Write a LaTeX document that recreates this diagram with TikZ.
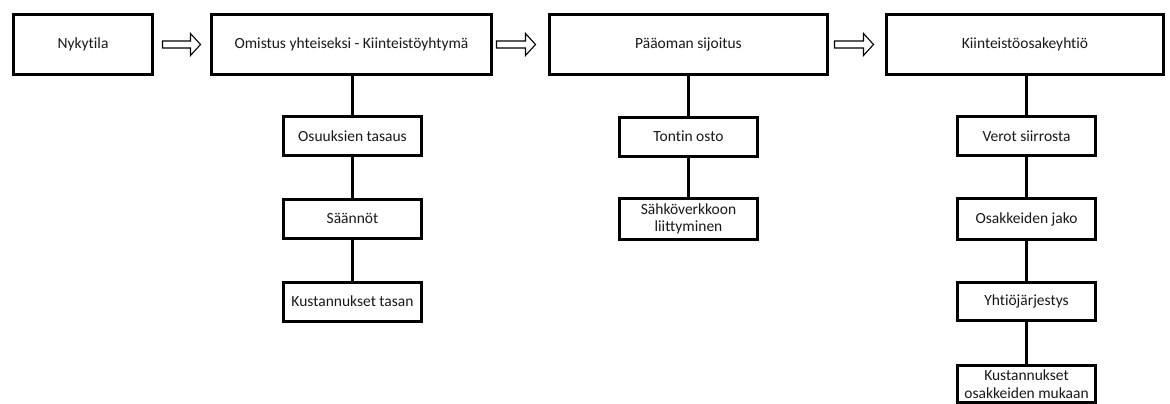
\documentclass[tikz,border=0pt]{standalone}
\usepackage{fontspec}
\setmainfont{Carlito}[Ligatures={NoCommon}]
\usetikzlibrary{calc}
\tikzset{
  box/.style={draw=black, line width=3pt, fill=white, align=center, inner sep=0pt,
    font=\fontsize{15.5}{17.5}\selectfont, text=black!90},
  topbox/.style={box, minimum height=60pt},
  subbox/.style={box, minimum width=138pt, minimum height=39pt},
  link/.style={line width=3pt},
  blockarrow/.style={draw=black, line width=1.1pt, fill=white, line join=miter},
}
\newcommand{\blockarr}[2]{%
  \draw[blockarrow] let \p1=(#1), \p2=(#2) in
    (\x1,\y1+3.5pt) -- (\x2-10pt,\y1+3.5pt) -- (\x2-10pt,\y1+11pt) -- (\x2,\y1)
    -- (\x2-10pt,\y1-11pt) -- (\x2-10pt,\y1-3.5pt) -- (\x1,\y1-3.5pt) -- cycle;}
\begin{document}
\begin{tikzpicture}[x=1pt,y=1pt]
\useasboundingbox[fill=white] (0,0) rectangle (1170,-404);
% top row
\node[topbox, minimum width=139pt] (a) at (83,-44.5) {Nykytila};
\node[topbox, minimum width=280pt] (b) at (351.5,-44.5) {Omistus yhteiseksi - Kiinteistöyhtymä};
\node[topbox, minimum width=278pt] (c) at (688.5,-44.5) {Pääoman sijoitus};
\node[topbox, minimum width=277pt] (d) at (1025,-44.5) {Kiinteistöosakeyhtiö};
% column b
\node[subbox] (b1) at (352.5,-136) {Osuuksien tasaus};
\node[subbox] (b2) at (352.5,-218.5) {Säännöt};
\node[subbox] (b3) at (352.5,-301.5) {Kustannukset tasan};
% column c
\node[subbox] (c1) at (688.5,-136.5) {Tontin osto};
\node[subbox, minimum height=41pt] (c2) at (688.5,-219) {Sähköverkkoon\\liittyminen};
% column d
\node[subbox] (d1) at (1026.5,-136) {Verot siirrosta};
\node[subbox, minimum height=41pt] (d2) at (1026.5,-219) {Osakkeiden jako};
\node[subbox, minimum height=38pt] (d3) at (1026.5,-301.5) {Yhtiöjärjestys};
\node[subbox, minimum height=37pt] (d4) at (1026.5,-384) {Kustannukset\\osakkeiden mukaan};
% vertical links
\draw[link] (b.south -| b1.north) -- (b1.north);
\draw[link] (b1) -- (b2);
\draw[link] (b2) -- (b3);
\draw[link] (c.south -| c1.north) -- (c1.north);
\draw[link] (c1) -- (c2);
\draw[link] (d.south -| d1.north) -- (d1.north);
\draw[link] (d1) -- (d2);
\draw[link] (d2) -- (d3);
\draw[link] (d3) -- (d4);
% block arrows
\coordinate (s1) at ($(a.east)+(8.5,0)$);
\coordinate (e1) at ($(b.west)+(-9.5,0)$);
\coordinate (s2) at ($(b.east)+(3.5,0)$);
\coordinate (e2) at ($(c.west)+(-12.5,0)$);
\coordinate (s3) at ($(c.east)+(5.5,0)$);
\coordinate (e3) at ($(d.west)+(-11.5,0)$);
\blockarr{s1}{e1}
\blockarr{s2}{e2}
\blockarr{s3}{e3}
\end{tikzpicture}
\end{document}
